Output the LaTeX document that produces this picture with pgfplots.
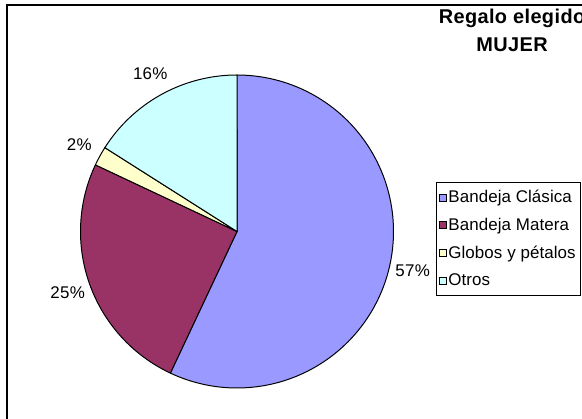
\documentclass[border=0pt]{standalone}
\usepackage{pgfplots}
\usepackage{pgfplotstable}
\pgfplotsset{compat=1.18}
\usepackage{fontspec}
\setmainfont{Liberation Sans}

\definecolor{clasica}{HTML}{9999FF}
\definecolor{matera}{HTML}{993366}
\definecolor{globos}{HTML}{FFFFCC}
\definecolor{otros}{HTML}{CCFFFF}

\newcommand\labelfont{\fontsize{17}{19}\selectfont\addfontfeatures{LetterSpace=2}}
\newcommand\legendfont{\fontsize{17}{19}\selectfont\addfontfeatures{LetterSpace=0.5}}
\newcommand\titlefont{\fontsize{20}{27.5}\selectfont\bfseries\addfontfeatures{LetterSpace=2}}

% share of each gift, in percent
\pgfplotstableread[col sep=comma]{
regalo,pct,color
Bandeja Clásica,57,clasica
Bandeja Matera,25,matera
Globos y pétalos,2,globos
Otros,16,otros
}\regalos

\begin{document}
\begin{tikzpicture}
\begin{axis}[
  width=582bp, height=419bp, scale only axis,
  xmin=0, xmax=582, ymin=0, ymax=419,
  axis lines=none,
  legend cell align=left,
  legend image code/.code={\draw[#1, line width=0.5pt] (0bp,-3.5bp) rectangle (7bp,3.5bp);},
  legend style={
    at={(axis cs:436,237)}, anchor=north west,
    draw=black, line width=0.8pt,
    font=\legendfont,
    inner xsep=2.5bp, inner ysep=6bp,
    row sep=10bp,
    nodes={inner xsep=2bp, inner ysep=2bp},
  },
]
% outer chart frame
\draw[black, line width=1.6pt] (axis cs:7,-20) -- (axis cs:7,414) -- (axis cs:620,414);

\def\cx{237}\def\cy{187.5}\def\rad{156.5}
\def\angstart{0}
\pgfplotsforeachungrouped \i in {0,...,3}{%
  \pgfplotstablegetelem{\i}{pct}\of\regalos \let\pct\pgfplotsretval
  \pgfplotstablegetelem{\i}{color}\of\regalos \let\col\pgfplotsretval
  \pgfplotstablegetelem{\i}{regalo}\of\regalos \let\name\pgfplotsretval
  \pgfmathsetmacro\angend{\angstart+3.6*\pct}
  \pgfmathsetmacro\angmid{\angstart+1.8*\pct}
  \edef\slice{%
    \noexpand\addplot[draw=black, line width=1pt, fill=\col,
      domain=\angstart:\angend, samples=120]
      ({\cx+\rad*sin(x)}, {\cy+\rad*cos(x)}) -- (axis cs:\cx,\cy) -- cycle;
    \noexpand\addlegendentry{\name}
    \noexpand\node[font=\noexpand\labelfont]
      at (axis cs:{\cx+180*sin(\angmid)},{\cy+180*cos(\angmid)}) {\pct\noexpand\%};
  }%
  \slice
  \let\angstart\angend
}

\node[align=center, font=\titlefont, anchor=north] at (axis cs:512,413) {Regalo elegido\\MUJER};
\end{axis}
\pgfresetboundingbox
\path[use as bounding box] (current axis.south west) rectangle (current axis.north east);
\end{tikzpicture}
\end{document}
